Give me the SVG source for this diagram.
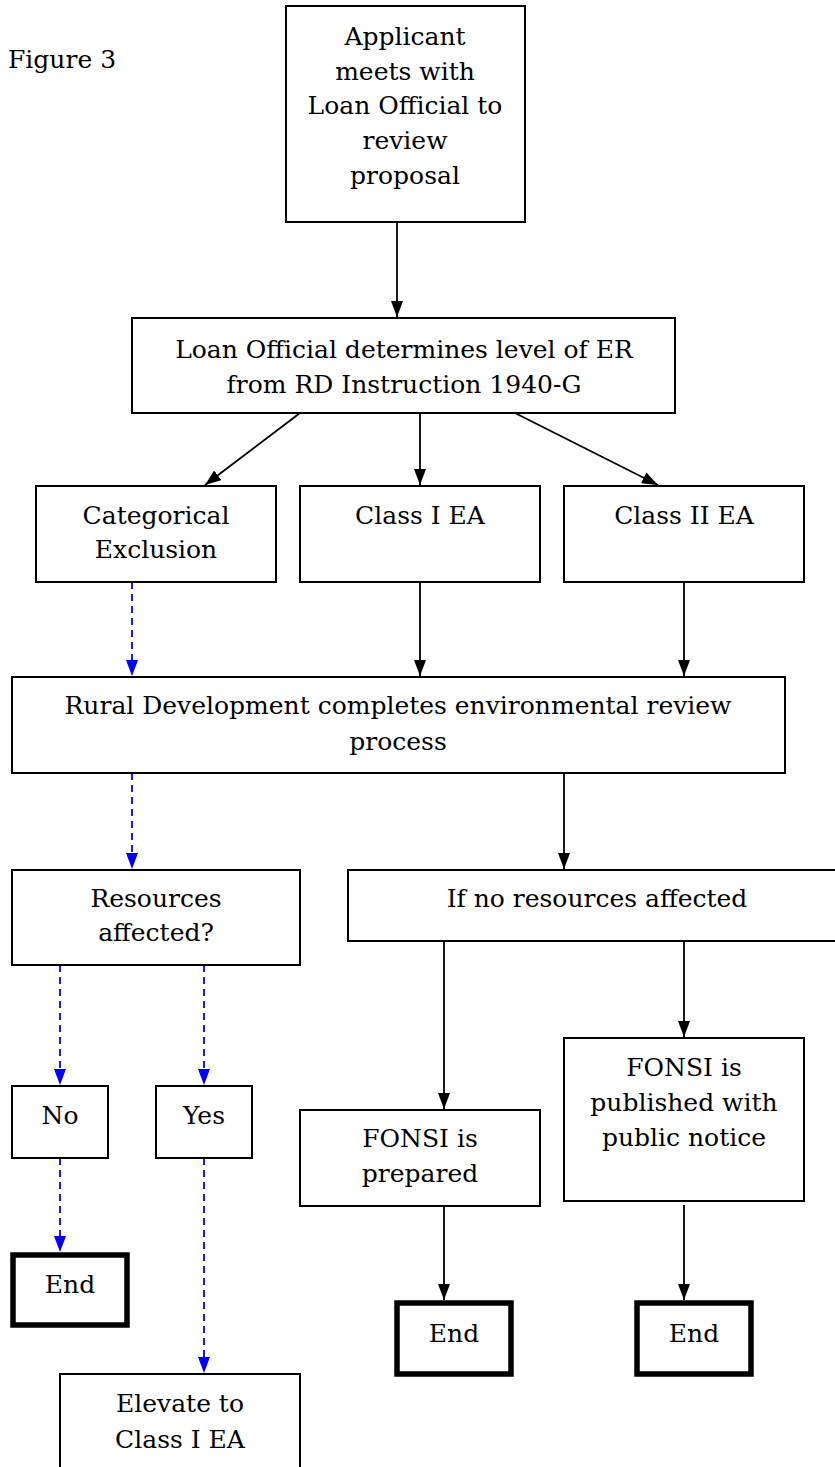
<svg xmlns="http://www.w3.org/2000/svg" width="835" height="1467" viewBox="0 0 835 1467">
<style>
text{font-family:"DejaVu Serif","Liberation Serif",serif;font-size:25px;fill:#000;text-anchor:middle}
.box{fill:#fff;stroke:#000;stroke-width:2}
.end{fill:#fff;stroke:#000;stroke-width:5.5}
.ln{stroke:#000;stroke-width:1.8;fill:none}
.dl{stroke:#0000ff;stroke-width:1.8;fill:none;stroke-dasharray:7,5}
</style>
<defs>
<marker id="ah" viewBox="0 0 16 12" refX="16" refY="6" markerWidth="16" markerHeight="12" markerUnits="userSpaceOnUse" orient="auto"><path d="M0,0 L16,6 L0,12 z" fill="#000"/></marker>
<marker id="bh" viewBox="0 0 16 12" refX="16" refY="6" markerWidth="16" markerHeight="12" markerUnits="userSpaceOnUse" orient="auto"><path d="M0,0 L16,6 L0,12 z" fill="#0000ff"/></marker>
</defs>
<text x="8" y="68" style="text-anchor:start">Figure 3</text>
<g id="connectors">
<line class="ln" x1="397" y1="222" x2="397" y2="317" marker-end="url(#ah)"/>
<line class="ln" x1="300" y1="413" x2="205" y2="485" marker-end="url(#ah)"/>
<line class="ln" x1="420" y1="413" x2="420" y2="485" marker-end="url(#ah)"/>
<line class="ln" x1="515" y1="413" x2="658" y2="485" marker-end="url(#ah)"/>
<line class="dl" x1="132" y1="582" x2="132" y2="676" marker-end="url(#bh)"/>
<line class="ln" x1="420" y1="582" x2="420" y2="676" marker-end="url(#ah)"/>
<line class="ln" x1="684" y1="582" x2="684" y2="676" marker-end="url(#ah)"/>
<line class="dl" x1="132" y1="773" x2="132" y2="869" marker-end="url(#bh)"/>
<line class="ln" x1="564" y1="773" x2="564" y2="869" marker-end="url(#ah)"/>
<line class="dl" x1="60" y1="965" x2="60" y2="1085" marker-end="url(#bh)"/>
<line class="dl" x1="204" y1="965" x2="204" y2="1085" marker-end="url(#bh)"/>
<line class="ln" x1="444" y1="941" x2="444" y2="1109" marker-end="url(#ah)"/>
<line class="ln" x1="684" y1="941" x2="684" y2="1037" marker-end="url(#ah)"/>
<line class="dl" x1="60" y1="1158" x2="60" y2="1252" marker-end="url(#bh)"/>
<line class="dl" x1="204" y1="1158" x2="204" y2="1373" marker-end="url(#bh)"/>
<line class="ln" x1="444" y1="1206" x2="444" y2="1300" marker-end="url(#ah)"/>
<line class="ln" x1="684" y1="1205" x2="684" y2="1300" marker-end="url(#ah)"/>
</g>
<g id="n-applicant"><rect class="box" x="286" y="6" width="239" height="216"/>
<text x="405" y="45">Applicant</text><text x="405" y="80">meets with</text><text x="405" y="114">Loan Official to</text><text x="405" y="149">review</text><text x="405" y="184">proposal</text></g>
<g id="n-loan"><rect class="box" x="132" y="318" width="543" height="95"/>
<text x="404" y="358">Loan Official determines level of ER</text><text x="404" y="393">from RD Instruction 1940-G</text></g>
<g id="n-cat"><rect class="box" x="36" y="486" width="240" height="96"/>
<text x="156" y="524">Categorical</text><text x="156" y="558">Exclusion</text></g>
<g id="n-class1"><rect class="box" x="300" y="486" width="240" height="96"/>
<text x="420" y="524">Class I EA</text></g>
<g id="n-class2"><rect class="box" x="564" y="486" width="240" height="96"/>
<text x="684" y="524">Class II EA</text></g>
<g id="n-rural"><rect class="box" x="12" y="677" width="773" height="96"/>
<text x="398" y="714">Rural Development completes environmental review</text><text x="398" y="750">process</text></g>
<g id="n-resources"><rect class="box" x="12" y="870" width="288" height="95"/>
<text x="156" y="907">Resources</text><text x="156" y="941">affected?</text></g>
<g id="n-ifno"><rect class="box" x="348" y="870" width="500" height="71"/>
<text x="597" y="907">If no resources affected</text></g>
<g id="n-no"><rect class="box" x="12" y="1086" width="96" height="72"/>
<text x="60" y="1124">No</text></g>
<g id="n-yes"><rect class="box" x="156" y="1086" width="96" height="72"/>
<text x="204" y="1124">Yes</text></g>
<g id="n-prepared"><rect class="box" x="300" y="1110" width="240" height="96"/>
<text x="420" y="1147">FONSI is</text><text x="420" y="1182">prepared</text></g>
<g id="n-published"><rect class="box" x="564" y="1038" width="240" height="163"/>
<text x="684" y="1076">FONSI is</text><text x="684" y="1111">published with</text><text x="684" y="1146">public notice</text></g>
<g id="n-end1"><rect class="end" x="13" y="1255" width="114" height="70"/>
<text x="70" y="1293">End</text></g>
<g id="n-end2"><rect class="end" x="397" y="1303" width="114" height="71"/>
<text x="454" y="1342">End</text></g>
<g id="n-end3"><rect class="end" x="637" y="1303" width="114" height="71"/>
<text x="694" y="1342">End</text></g>
<g id="n-elevate"><rect class="box" x="60" y="1374" width="240" height="110"/>
<text x="180" y="1412">Elevate to</text><text x="180" y="1448">Class I EA</text></g>
</svg>
